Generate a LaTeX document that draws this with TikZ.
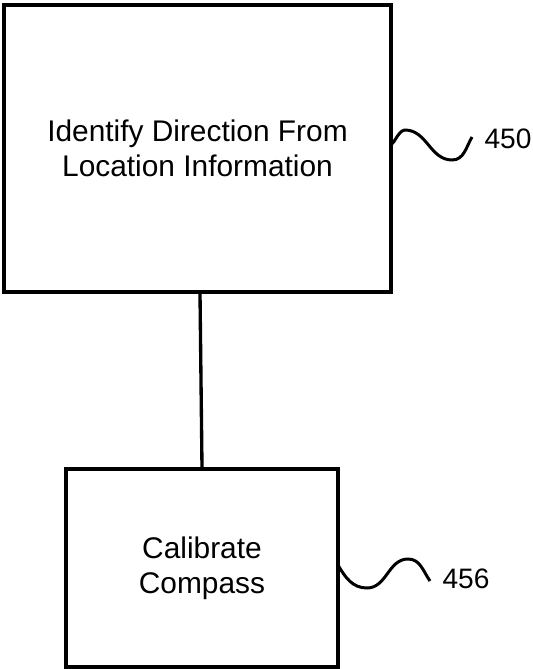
\documentclass[tikz,border=0pt]{standalone}
\usepackage{fontspec}
\setmainfont{Liberation Sans}
\usetikzlibrary{positioning}

\tikzset{
  stepbox/.style={draw,line width=1.9pt,align=center,font=\fontsize{17}{20}\selectfont},
  reflabel/.style={anchor=west,font=\fontsize{16}{19}\selectfont},
  squiggle/.style={line width=1.7pt}
}

\begin{document}
\begin{tikzpicture}[x=0.02cm,y=-0.02cm,line width=1.9pt]
\useasboundingbox (0,0) rectangle (532,669);

\node[stepbox,minimum width=7.74cm,minimum height=5.74cm] (identify) at (197.5,148.5) {Identify Direction From\\Location Information};
\node[stepbox,minimum width=5.44cm,minimum height=3.96cm] (calibrate) at (202,568) {Calibrate\\Compass};

\draw ([xshift=0.05cm]identify.south) -- (calibrate.north);

% reference numerals
\node[reflabel] (lab450) at (477,139) {450};
\node[reflabel] (lab456) at (435,579) {456};

\coordinate (s450) at (391,142);
\coordinate (e450) at (472,137);
\draw[squiggle] (s450) to[out=-80,in=180] (405,130) to[out=0,in=180] (452,160) to[out=0,in=240] (e450);

\coordinate (s456) at (338,565);
\coordinate (e456) at (430,581);
\draw[squiggle] (s456) to[out=-60,in=180] (367,588) to[out=0,in=180] (408,559) to[out=0,in=125] (e456);

\end{tikzpicture}
\end{document}
